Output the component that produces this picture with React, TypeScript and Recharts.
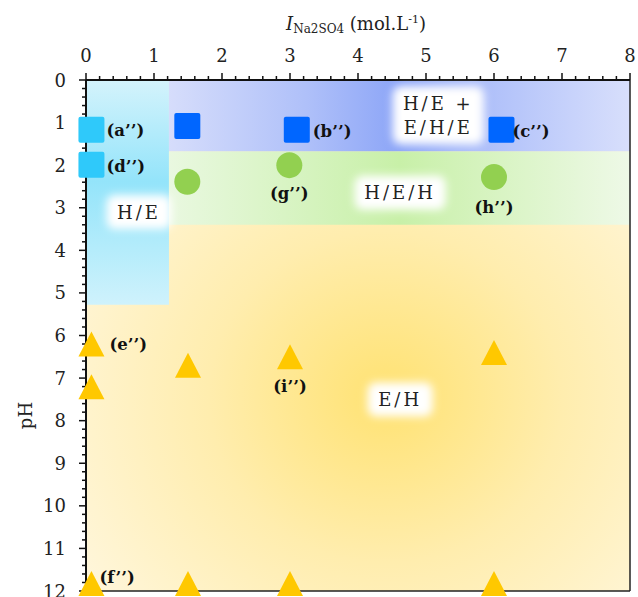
import {
  ReferenceArea,
  ReferenceLine,
  Scatter,
  ScatterChart,
  XAxis,
  YAxis,
} from "recharts";

// axis ticks (majors get labels, minors every 0.2)
const xMajorTicks = [0, 1, 2, 3, 4, 5, 6, 7, 8];
const yMajorTicks = [0, 1, 2, 3, 4, 5, 6, 7, 8, 9, 10, 11, 12];
const xAllTicks = Array.from({ length: 41 }, (_, i) => +(i * 0.2).toFixed(1));
const yAllTicks = Array.from({ length: 61 }, (_, i) => +(i * 0.2).toFixed(1));

// region boundaries (ionic strength, pH)
const heZone = { x1: 0, x2: 1.22, y1: 0, y2: 5.28 };
const heheZone = { x1: 1.22, x2: 8, y1: 0, y2: 1.68 };
const hehZone = { x1: 1.22, x2: 8, y1: 1.68, y2: 3.4 };

// samples
const cyanSquares = [
  { x: 0.08, y: 1.17, name: "(a’’)" },
  { x: 0.08, y: 1.99, name: "(d’’)" },
];
const blueSquares = [
  { x: 1.49, y: 1.08, name: "" },
  { x: 3.1, y: 1.17, name: "(b’’)" },
  { x: 6.11, y: 1.17, name: "(c’’)" },
];
const greenCircles = [
  { x: 1.49, y: 2.39, name: "" },
  { x: 2.99, y: 2.0, name: "(g’’)" },
  { x: 6.0, y: 2.28, name: "(h’’)" },
];
const yellowTriangles = [
  { x: 0.08, y: 6.3, name: "(e’’)" },
  { x: 0.08, y: 7.3, name: "" },
  { x: 1.5, y: 6.8, name: "" },
  { x: 3.0, y: 6.6, name: "(i’’)" },
  { x: 6.0, y: 6.5, name: "" },
  { x: 0.08, y: 11.92, name: "(f’’)" },
  { x: 1.5, y: 11.92, name: "" },
  { x: 3.0, y: 11.92, name: "" },
  { x: 6.0, y: 11.92, name: "" },
];

const regionLabels = [
  { x: 0.78, y: 3.1, lines: ["H/E"] },
  { x: 5.18, y: 0.83, lines: ["H/E +", "E/H/E"] },
  { x: 4.62, y: 2.65, lines: ["H/E/H"] },
  { x: 4.62, y: 7.5, lines: ["E/H"] },
];

const labelPlacement: Record<string, { dx: number; dy: number; anchor: string }> = {
  "(a’’)": { dx: 15, dy: 1, anchor: "start" },
  "(d’’)": { dx: 15, dy: 2, anchor: "start" },
  "(b’’)": { dx: 16, dy: 2, anchor: "start" },
  "(c’’)": { dx: 11, dy: 2, anchor: "start" },
  "(g’’)": { dx: 0, dy: 28, anchor: "middle" },
  "(h’’)": { dx: 0, dy: 30, anchor: "middle" },
  "(e’’)": { dx: 18, dy: -4, anchor: "start" },
  "(i’’)": { dx: 0, dy: 25, anchor: "middle" },
  "(f’’)": { dx: 8, dy: -10, anchor: "start" },
};

const SERIF = "'DejaVu Serif', 'Liberation Serif', serif";
const W = 638;
const H = 597;

const renderLabel = (cx: number, cy: number, name: string) => {
  const p = labelPlacement[name];
  if (!name || !p) return null;
  return (
    <text
      x={cx + p.dx}
      y={cy + p.dy}
      textAnchor={p.anchor as any}
      dominantBaseline="central"
      fontFamily={SERIF}
      fontWeight="bold"
      fontSize={16.5}
      fill="#111"
    >
      {name}
    </text>
  );
};

const makeShape = (kind: string, color: string) => (props: any) => {
  const { cx, cy, payload } = props;
  let mark = null;
  if (kind === "square") {
    mark = <rect x={cx - 13} y={cy - 13} width={26} height={26} rx={2} fill={color} />;
  } else if (kind === "circle") {
    mark = <circle cx={cx} cy={cy} r={13} fill={color} />;
  } else {
    mark = (
      <polygon
        points={`${cx},${cy - 16.7} ${cx - 13},${cy + 8.3} ${cx + 13},${cy + 8.3}`}
        fill={color}
      />
    );
  }
  return (
    <g>
      {mark}
      {renderLabel(cx, cy, payload.name)}
    </g>
  );
};

const renderRegionLabel = (props: any) => {
  const { cx, cy, payload } = props;
  const lines: string[] = payload.lines;
  const lh = 24;
  const longest = Math.max(...lines.map((l) => l.length));
  const w = longest * 13 + 26;
  const h = lines.length * lh + 10;
  return (
    <g>
      <rect
        x={cx - w / 2}
        y={cy - h / 2}
        width={w}
        height={h}
        rx={8}
        fill="#fff"
        filter="url(#glow)"
      />
      {lines.map((l, i) => (
        <text
          key={l}
          x={cx}
          y={cy + (i - (lines.length - 1) / 2) * lh}
          textAnchor="middle"
          dominantBaseline="central"
          fontFamily={SERIF}
          fontSize={18}
          letterSpacing={3}
          fill="#222"
        >
          {l}
        </text>
      ))}
    </g>
  );
};

const renderXTick = (props: any) => {
  const { x, y, payload } = props;
  const major = xMajorTicks.includes(payload.value);
  return (
    <g>
      <line x1={x} x2={x} y1={y} y2={y - (major ? 7 : 4)} stroke="#111" strokeWidth={1.5} />
      {major && (
        <text x={x} y={y - 18} textAnchor="middle" fontFamily={SERIF} fontSize={18} fill="#222">
          {payload.value}
        </text>
      )}
    </g>
  );
};

const renderYTick = (props: any) => {
  const { x, y, payload } = props;
  const major = yMajorTicks.includes(payload.value);
  return (
    <g>
      <line x1={x} x2={x - (major ? 7 : 4)} y1={y} y2={y} stroke="#111" strokeWidth={1.5} />
      {major && (
        <text
          x={x - 20}
          y={y}
          textAnchor="end"
          dominantBaseline="central"
          fontFamily={SERIF}
          fontSize={18}
          fill="#222"
        >
          {payload.value}
        </text>
      )}
    </g>
  );
};

const renderXTitle = (props: any) => {
  const vb = props.viewBox;
  return (
    <text
      x={vb.x + vb.width / 2 - 2}
      y={30}
      textAnchor="middle"
      fontFamily={SERIF}
      fontSize={18}
      fill="#222"
    >
      <tspan fontStyle="italic">I</tspan>
      <tspan fontSize={12} dy={3}>Na2SO4</tspan>
      <tspan dy={-3}> (mol.L</tspan>
      <tspan fontSize={11} dy={-7}>-1</tspan>
      <tspan dy={7}>)</tspan>
    </text>
  );
};

const renderYTitle = (props: any) => {
  const vb = props.viewBox;
  const cy = vb.y + vb.height / 2 + 80;
  return (
    <text
      x={25}
      y={cy}
      transform={`rotate(-90, 25, ${cy})`}
      textAnchor="middle"
      dominantBaseline="central"
      fontFamily={SERIF}
      fontSize={18}
      fill="#222"
    >
      pH
    </text>
  );
};

// markers sit in a second chart on top so they cover the axis lines
const MarkerLayer = () => (
  <ScatterChart width={W} height={H} margin={{ top: 80, right: 8, bottom: 6, left: 86 }}>
    <XAxis type="number" dataKey="x" domain={[0, 8]} hide />
    <YAxis type="number" dataKey="y" domain={[0, 12]} reversed hide />
    <Scatter data={cyanSquares} shape={makeShape("square", "#2FC9FA")} isAnimationActive={false} />
    <Scatter data={blueSquares} shape={makeShape("square", "#0066FF")} isAnimationActive={false} />
    <Scatter data={greenCircles} shape={makeShape("circle", "#92D050")} isAnimationActive={false} />
    <Scatter data={yellowTriangles} shape={makeShape("triangle", "#FFC800")} isAnimationActive={false} />
  </ScatterChart>
);

export default function App() {
  return (
    <div style={{ position: "fixed", left: 0, top: 0, width: W, height: H, background: "#fff" }}>
      <div style={{ position: "absolute", left: 0, top: 0 }}>
        <ScatterChart width={W} height={H} margin={{ top: 40, right: 8, bottom: 6, left: 0 }}>
          <defs>
            <filter id="glow" x="-50%" y="-50%" width="200%" height="200%">
              <feGaussianBlur stdDeviation={4} />
            </filter>
            <radialGradient id="yellowGrad" cx="0.55" cy="0.62" r="0.65">
              <stop offset="0" stopColor="#FFE272" />
              <stop offset="0.5" stopColor="#FFEDAE" />
              <stop offset="1" stopColor="#FFF6DA" />
            </radialGradient>
            <linearGradient id="cyanGrad" x1="0" y1="0" x2="0" y2="1">
              <stop offset="0" stopColor="#D4F3FC" />
              <stop offset="0.45" stopColor="#94E4FA" />
              <stop offset="0.75" stopColor="#B4ECFB" />
              <stop offset="1" stopColor="#CFF2FC" />
            </linearGradient>
            <linearGradient id="blueGrad" x1="0" y1="0" x2="1" y2="0">
              <stop offset="0" stopColor="#D6DDFB" />
              <stop offset="0.3" stopColor="#AFC0F9" />
              <stop offset="0.5" stopColor="#8CA5F7" />
              <stop offset="0.62" stopColor="#A6B9F9" />
              <stop offset="1" stopColor="#D8DFFC" />
            </linearGradient>
            <linearGradient id="greenGrad" x1="0" y1="0" x2="1" y2="0">
              <stop offset="0" stopColor="#E9F8E0" />
              <stop offset="0.5" stopColor="#C8F0A8" />
              <stop offset="1" stopColor="#EEF9E7" />
            </linearGradient>
          </defs>
          <XAxis
            type="number"
            dataKey="x"
            orientation="top"
            domain={[0, 8]}
            ticks={xAllTicks}
            interval={0}
            height={40}
            tickSize={0}
            tickMargin={0}
            tickLine={false}
            tick={renderXTick}
            axisLine={{ stroke: "#111", strokeWidth: 2 }}
            label={{ content: renderXTitle }}
          />
          <YAxis
            type="number"
            dataKey="y"
            reversed
            domain={[0, 12]}
            ticks={yAllTicks}
            interval={0}
            width={86}
            tickSize={0}
            tickMargin={0}
            tickLine={false}
            tick={renderYTick}
            axisLine={{ stroke: "#111", strokeWidth: 2 }}
            label={{ content: renderYTitle }}
          />
          <ReferenceArea x1={0} x2={8} y1={0} y2={12} fill="url(#yellowGrad)" fillOpacity={1} stroke="none" />
          <ReferenceArea {...heZone} fill="url(#cyanGrad)" fillOpacity={1} stroke="none" />
          <ReferenceArea {...heheZone} fill="url(#blueGrad)" fillOpacity={1} stroke="none" />
          <ReferenceArea {...hehZone} fill="url(#greenGrad)" fillOpacity={1} stroke="none" />
          <ReferenceLine x={8} stroke="#222" strokeWidth={1.5} />
          <ReferenceLine y={12} stroke="#222" strokeWidth={1.5} />
          <Scatter data={regionLabels} shape={renderRegionLabel} isAnimationActive={false} />
        </ScatterChart>
      </div>
      <div style={{ position: "absolute", left: 0, top: 0 }}>
        <MarkerLayer />
      </div>
    </div>
  );
}
